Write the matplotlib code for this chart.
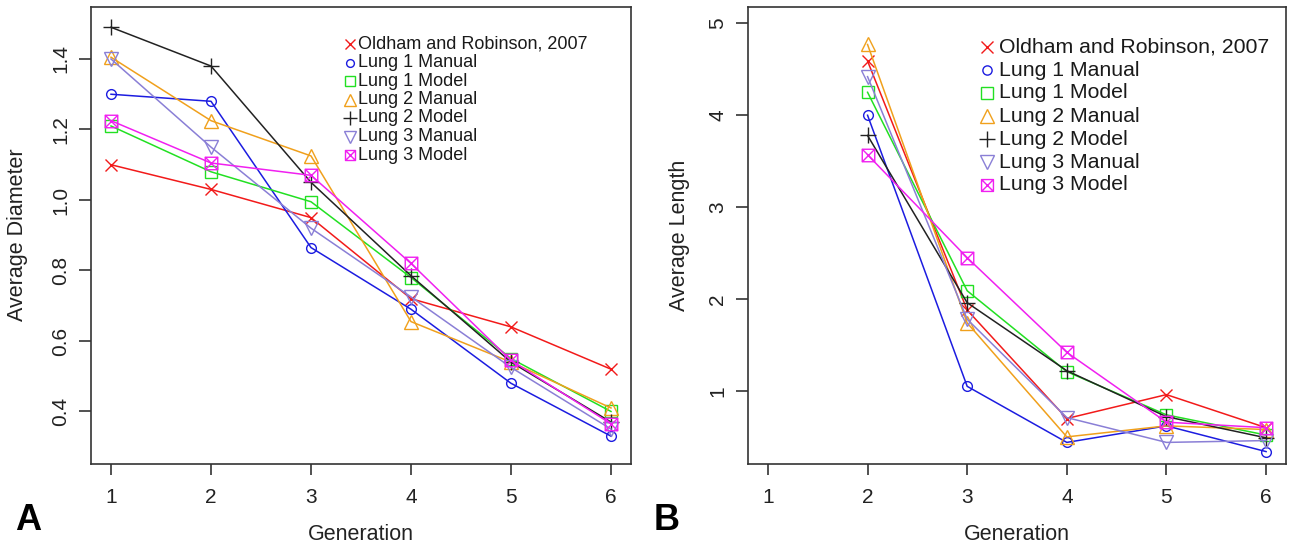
import numpy as np
import matplotlib
matplotlib.use("Agg")
from matplotlib import pyplot
from matplotlib.path import Path

pyplot.rcParams["font.family"] = ["Liberation Sans", "DejaVu Sans"]

W, H = 1289, 547

generations = [1, 2, 3, 4, 5, 6]
series_names = ["Oldham and Robinson, 2007", "Lung 1 Manual", "Lung 1 Model",
                "Lung 2 Manual", "Lung 2 Model", "Lung 3 Manual", "Lung 3 Model"]

# Panel A: average diameter, generations 1-6
diam_oldham = [1.10, 1.03, 0.95, 0.72, 0.64, 0.52]
diam_lung1_manual = [1.30, 1.28, 0.865, 0.69, 0.48, 0.33]
diam_lung1_model = [1.21, 1.08, 0.995, 0.78, 0.55, 0.40]
diam_lung2_manual = [1.405, 1.225, 1.125, 0.655, 0.54, 0.41]
diam_lung2_model = [1.49, 1.38, 1.05, 0.785, 0.54, 0.37]
diam_lung3_manual = [1.40, 1.15, 0.92, 0.725, 0.525, 0.35]
diam_lung3_model = [1.225, 1.105, 1.07, 0.82, 0.545, 0.365]

# Panel B: average length, generations 2-6
len_gens = [2, 3, 4, 5, 6]
len_oldham = [4.59, 1.88, 0.70, 0.96, 0.60]
len_lung1_manual = [4.00, 1.05, 0.44, 0.62, 0.34]
len_lung1_model = [4.25, 2.09, 1.21, 0.74, 0.52]
len_lung2_manual = [4.77, 1.74, 0.50, 0.62, 0.58]
len_lung2_model = [3.78, 1.96, 1.22, 0.72, 0.49]
len_lung3_manual = [4.42, 1.78, 0.71, 0.44, 0.46]
len_lung3_model = [3.57, 2.45, 1.42, 0.66, 0.60]

colors = ["#f21a1a", "#1c1ce0", "#22e022", "#f0a01c", "#222222", "#8a7fd6", "#f020f0"]

# square with a cross inside (R pch 7)
box_x = Path([(-1, -1), (1, -1), (1, 1), (-1, 1), (-1, -1), (-1, -1), (1, 1), (-1, 1), (1, -1)],
             [Path.MOVETO, Path.LINETO, Path.LINETO, Path.LINETO, Path.CLOSEPOLY,
              Path.MOVETO, Path.LINETO, Path.MOVETO, Path.LINETO])
markers = ["x", "o", "s", "^", "+", "v", box_x]
msizes = [9, 7, 9, 10, 12, 10, 9]


def px_x(x):
    return x / W


def px_y(y):
    return 1 - y / H


fig = pyplot.figure(figsize=(W / 100, H / 100), dpi=100)
axA = fig.add_axes([px_x(91), px_y(464), 540 / W, 457 / H])
axB = fig.add_axes([px_x(748), px_y(464), 538 / W, 457 / H])


def style_axes(ax, ylim, yticks, yfmt):
    ax.set_xlim(0.8, 6.2)
    ax.set_ylim(*ylim)
    ax.set_xticks(generations)
    ax.set_yticks(yticks)
    ax.set_yticklabels([yfmt.format(v) for v in yticks], rotation=90, va="center")
    for s in ax.spines.values():
        s.set_linewidth(1.2)
        s.set_color("#333333")
    ax.tick_params(axis="x", length=8, width=1.2, color="#333333", pad=9,
                   labelsize=15, labelcolor="#222222")
    ax.tick_params(axis="y", length=9, width=1.2, color="#333333", pad=6,
                   labelsize=15, labelcolor="#222222")


def draw_legend(ax, x_px, y_px, dy, fsize, ms_scale, gap):
    # legend drawn by hand to keep R's tight spacing
    for i, name in enumerate(series_names):
        y = y_px + i * dy
        fig.add_artist(matplotlib.lines.Line2D([px_x(x_px)], [px_y(y)], marker=markers[i],
                                               markersize=msizes[i] * ms_scale, color=colors[i],
                                               markerfacecolor="none", markeredgewidth=1.0,
                                               linestyle="none"))
        fig.text(px_x(x_px + gap), px_y(y), name, fontsize=fsize, color="#1a1a1a",
                 ha="left", va="center")


diam = [diam_oldham, diam_lung1_manual, diam_lung1_model, diam_lung2_manual,
        diam_lung2_model, diam_lung3_manual, diam_lung3_model]
lens = [len_oldham, len_lung1_manual, len_lung1_model, len_lung2_manual,
        len_lung2_model, len_lung3_manual, len_lung3_model]

for i in range(len(series_names)):
    axA.plot(generations, diam[i], color=colors[i], marker=markers[i], markersize=msizes[i],
             markerfacecolor="none", markeredgewidth=1.0, linewidth=1.1)
    axB.plot(len_gens, lens[i], color=colors[i], marker=markers[i], markersize=msizes[i],
             markerfacecolor="none", markeredgewidth=1.0, linewidth=1.1)

style_axes(axA, (0.251, 1.5475), [0.4, 0.6, 0.8, 1.0, 1.2, 1.4], "{:.1f}")
style_axes(axB, (0.205, 5.178), [1, 2, 3, 4, 5], "{:.0f}")

draw_legend(axA, 350, 44, 18.5, 13, 0.8, 8)
draw_legend(axB, 987, 47, 23, 15.3, 0.95, 12)

fig.text(px_x(18), px_y(235), "Average Diameter", rotation=90, fontsize=15.5,
         color="#222222", ha="center", va="center")
fig.text(px_x(680), px_y(235), "Average Length", rotation=90, fontsize=15.5,
         color="#222222", ha="center", va="center")
fig.text(px_x(361), px_y(535), "Generation", fontsize=15.5, color="#222222",
         ha="center", va="center")
fig.text(px_x(1017), px_y(535), "Generation", fontsize=15.5, color="#222222",
         ha="center", va="center")
fig.text(px_x(28), px_y(521), "A", fontsize=26, fontweight="bold", ha="center", va="center")
fig.text(px_x(667), px_y(521), "B", fontsize=26, fontweight="bold", ha="center", va="center")

fig.savefig("out.png", dpi=100)
